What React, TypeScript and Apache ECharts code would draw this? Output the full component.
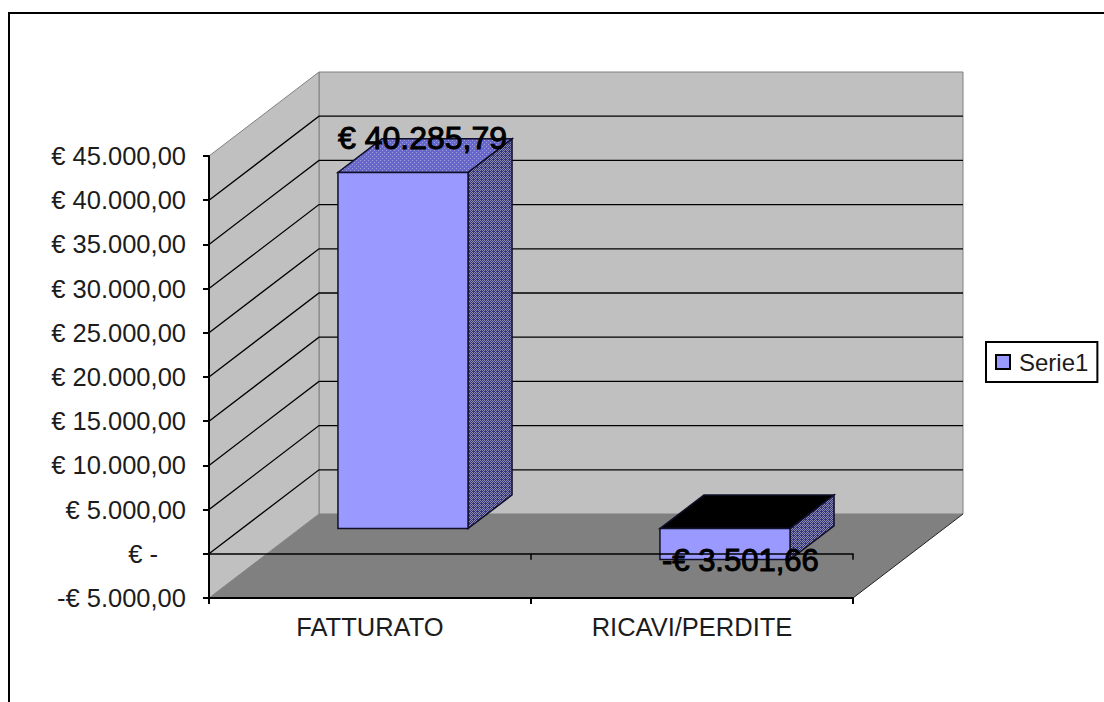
import React, { useEffect, useRef } from "react";
import * as echarts from "echarts";

// Annual figures in euro
const categories = ["FATTURATO", "RICAVI/PERDITE"];
const serieName = "Serie1";
const serieValues = [40285.79, -3501.66];
const valueLabels = ["€ 40.285,79", "-€ 3.501,66"];
const tickValues = [-5000, 0, 5000, 10000, 15000, 20000, 25000, 30000, 35000, 40000, 45000];
const tickLabels = [
  "-€ 5.000,00", "€ -", "€ 5.000,00", "€ 10.000,00", "€ 15.000,00", "€ 20.000,00",
  "€ 25.000,00", "€ 30.000,00", "€ 35.000,00", "€ 40.000,00", "€ 45.000,00",
];

// Oblique projection of the plot box
const DEPTH_X = 110;
const DEPTH_Y = -84;
const BAR_FRONT = 0.3;
const BAR_DEPTH = 0.4;
const BAR_WIDTH_RATIO = 0.404;

const BAR_FACE = "#9999ff";
const WALL = "#c0c0c0";
const FLOOR = "#808080";
const EDGE = "#000000";
const TEXT = "#1c1c1c";
const FONT = '"Liberation Sans", Arial, sans-serif';
const AXIS_FONT_SIZE = 25.5;

// Small repeating dither tiles for the shaded faces of the bars
function ditherTile(base: string, dot: string, cells: number[][]) {
  const size = 4;
  const c = document.createElement("canvas");
  c.width = size;
  c.height = size;
  const g = c.getContext("2d")!;
  g.fillStyle = base;
  g.fillRect(0, 0, size, size);
  g.fillStyle = dot;
  cells.forEach(([x, y]) => g.fillRect(x, y, 1, 1));
  return { image: c, repeat: "repeat" as const, imageWidth: size, imageHeight: size };
}

export default function App() {
  const ref = useRef<HTMLDivElement>(null);

  useEffect(() => {
    document.body.style.margin = "0";
    const chart = echarts.init(ref.current!, undefined, { renderer: "svg" });

    const topFill = ditherTile("#6666cc", "#a0a0d8", [[0, 0], [2, 2]]);
    const sideFill = ditherTile("#33337f", "#8c8ca8", [[0, 0], [2, 0], [1, 1], [3, 1], [0, 2], [2, 2], [3, 3]]);

    const renderBox = (params: any, api: any) => {
      const v = api.value(1) as number;
      const cs = params.coordSys;
      const left = cs.x;
      const right = cs.x + cs.width;
      const y = api.coord([0, v])[1];
      const children: any[] = [];
      if (params.dataIndex === 0) {
        const bottom = y;
        const top = api.coord([0, tickValues[tickValues.length - 1]])[1];
        const wallStyle = { fill: WALL, stroke: FLOOR, lineWidth: 1 };
        children.push(
          {
            type: "polygon",
            shape: { points: [[left + DEPTH_X, top + DEPTH_Y], [right + DEPTH_X, top + DEPTH_Y], [right + DEPTH_X, bottom + DEPTH_Y], [left + DEPTH_X, bottom + DEPTH_Y]] },
            style: wallStyle,
          },
          {
            type: "polygon",
            shape: { points: [[left, top], [left + DEPTH_X, top + DEPTH_Y], [left + DEPTH_X, bottom + DEPTH_Y], [left, bottom]] },
            style: wallStyle,
          },
          {
            type: "polygon",
            shape: { points: [[left, bottom], [right, bottom], [right + DEPTH_X, bottom + DEPTH_Y], [left + DEPTH_X, bottom + DEPTH_Y]] },
            style: { fill: FLOOR },
          },
          {
            type: "line",
            shape: { x1: right, y1: bottom, x2: right + DEPTH_X, y2: bottom + DEPTH_Y },
            style: { stroke: "#222222", lineWidth: 1 },
          },
        );
      }
      if (v !== tickValues[0] && v !== tickValues[tickValues.length - 1]) {
        children.push({
          type: "polyline",
          shape: { points: [[left, y], [left + DEPTH_X, y + DEPTH_Y], [right + DEPTH_X, y + DEPTH_Y]] },
          style: { fill: "none", stroke: EDGE, lineWidth: 1.3 },
        });
      }
      return { type: "group", children };
    };

    const barFrame = (api: any) => {
      const i = api.value(0) as number;
      const v = api.value(1) as number;
      const w = (api.size([1, 0]) as number[])[0] * BAR_WIDTH_RATIO;
      const base = api.coord([i, 0]);
      const tip = api.coord([i, v]);
      return {
        v,
        w,
        x: base[0] + DEPTH_X * BAR_FRONT - w / 2,
        yTop: Math.min(base[1], tip[1]) + DEPTH_Y * BAR_FRONT,
        yBottom: Math.max(base[1], tip[1]) + DEPTH_Y * BAR_FRONT,
      };
    };

    const renderBar = (_params: any, api: any) => {
      const { v, w, x, yTop, yBottom } = barFrame(api);
      const dx = DEPTH_X * BAR_DEPTH;
      const dy = DEPTH_Y * BAR_DEPTH;
      const edge = { stroke: "#10102a", lineWidth: 1.5 };
      return {
        type: "group",
        children: [
          {
            type: "polygon",
            shape: { points: [[x, yTop], [x + w, yTop], [x + w + dx, yTop + dy], [x + dx, yTop + dy]] },
            style: { fill: v >= 0 ? topFill : "#000000", ...edge },
          },
          {
            type: "polygon",
            shape: { points: [[x + w, yTop], [x + w + dx, yTop + dy], [x + w + dx, yBottom + dy], [x + w, yBottom]] },
            style: { fill: sideFill, ...edge },
          },
          {
            type: "rect",
            shape: { x, y: yTop, width: w, height: yBottom - yTop },
            style: { fill: BAR_FACE, ...edge },
          },
        ],
      };
    };

    // Value captions sit above the axis lines, so they get their own top layer
    const renderCaption = (params: any, api: any) => {
      const { v, x, yTop, yBottom } = barFrame(api);
      return {
        type: "text",
        style: {
          text: valueLabels[params.dataIndex],
          x: v >= 0 ? x : x + 2,
          y: v >= 0 ? yTop - 34 : yBottom + 1,
          align: "left",
          verticalAlign: "middle",
          font: `${v >= 0 ? 32 : 31}px ${FONT}`,
          fill: "#000000",
          stroke: "#000000",
          lineWidth: 1,
        },
      };
    };

    const valueData = serieValues.map((v, i) => [i, v]);

    chart.setOption({
      animation: false,
      backgroundColor: "#ffffff",
      grid: { left: 209, right: 251, top: 156, bottom: 104 },
      legend: {
        left: 986,
        top: 342,
        orient: "vertical",
        selectedMode: false,
        padding: [8, 9, 8, 9],
        borderColor: "#000000",
        borderWidth: 2,
        itemWidth: 14,
        itemHeight: 14,
        itemGap: 0,
        textStyle: { fontFamily: FONT, fontSize: 24, color: TEXT, padding: [0, 0, 0, 4] },
        data: [
          {
            name: serieName,
            icon: "rect",
            itemStyle: { color: BAR_FACE, borderColor: "#000000", borderWidth: 2 },
          },
        ],
      },
      xAxis: [
        {
          type: "category",
          data: categories,
          position: "bottom",
          z: 10,
          axisLine: { onZero: false, lineStyle: { color: "#000000", width: 2 } },
          axisTick: { show: true, length: 6, lineStyle: { color: "#000000", width: 2 } },
          axisLabel: {
            interval: 0,
            margin: 16,
            fontFamily: FONT,
            fontSize: AXIS_FONT_SIZE,
            color: TEXT,
          },
          splitLine: { show: false },
        },
        {
          type: "category",
          data: categories,
          position: "top",
          z: 10,
          axisLine: { onZero: true, lineStyle: { color: "#000000", width: 1.5 } },
          axisTick: { show: true, inside: true, length: 6, lineStyle: { color: "#000000", width: 1.5 } },
          axisLabel: { show: false },
          splitLine: { show: false },
        },
      ],
      yAxis: {
        type: "value",
        min: -5000,
        max: 45000,
        interval: 5000,
        z: 10,
        axisLine: { show: true, lineStyle: { color: "#000000", width: 2 } },
        axisTick: { show: true, length: 6, lineStyle: { color: "#000000", width: 2 } },
        splitLine: { show: false },
        axisLabel: {
          margin: 23,
          fontFamily: FONT,
          fontSize: AXIS_FONT_SIZE,
          color: TEXT,
          formatter: (value: number) => {
            const text = tickLabels[tickValues.indexOf(value)];
            return value === 0 ? `{zero|${text}}` : text;
          },
          rich: {
            zero: { fontFamily: FONT, fontSize: AXIS_FONT_SIZE, color: TEXT, padding: [0, 28, 0, 0] },
          },
        },
      },
      series: [
        {
          name: "box",
          type: "custom",
          coordinateSystem: "cartesian2d",
          silent: true,
          z: 1,
          data: tickValues.map((v) => [0, v]),
          renderItem: renderBox,
        },
        {
          name: serieName,
          type: "custom",
          coordinateSystem: "cartesian2d",
          z: 2,
          data: valueData,
          renderItem: renderBar,
        },
        {
          name: "captions",
          type: "custom",
          coordinateSystem: "cartesian2d",
          silent: true,
          z: 20,
          data: valueData,
          renderItem: renderCaption,
        },
      ],
      graphic: [
        {
          type: "polyline",
          shape: { points: [[9, 702], [9, 13], [1104, 13]] },
          style: { fill: "none", stroke: "#000000", lineWidth: 2 },
        },
      ],
    });

    return () => chart.dispose();
  }, []);

  return <div ref={ref} style={{ width: 1104, height: 702 }} />;
}
